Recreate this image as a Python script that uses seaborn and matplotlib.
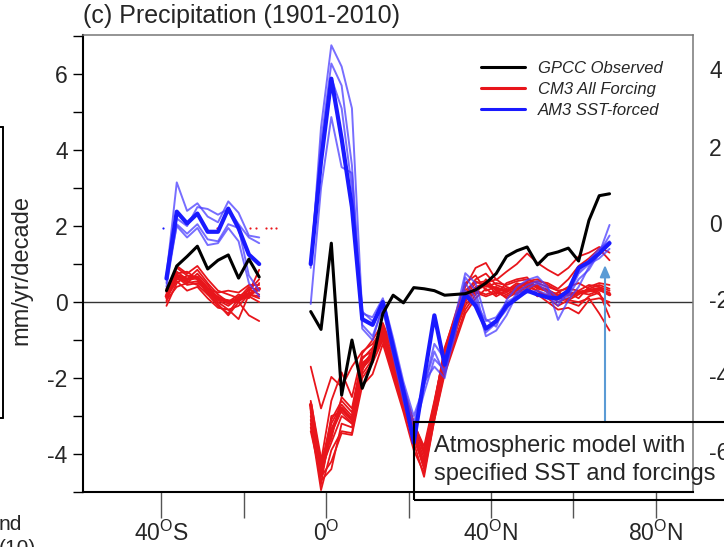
import numpy as np
import pandas as pd
import matplotlib
matplotlib.use("Agg")
import matplotlib.pyplot as plt
import seaborn as sns
from matplotlib.lines import Line2D
from matplotlib.patches import Rectangle
from matplotlib.ticker import MultipleLocator, FixedLocator

# ---------------- data ----------------
lat_sh = [-38.75, -36.25, -33.75, -31.25, -28.75, -26.25, -23.75, -21.25, -18.75, -16.25]
lat_nh = [-3.75, -1.25, 1.25, 3.75, 6.25, 8.75, 11.25, 13.75, 16.25, 18.75,
          21.25, 23.75, 26.25, 28.75, 31.25, 33.75, 36.25, 38.75, 41.25, 43.75,
          46.25, 48.75, 51.25, 53.75, 56.25, 58.75, 61.25, 63.75, 66.25, 68.75]

gpcc_sh = [0.3, 0.95, 1.2, 1.47, 0.87, 1.1, 1.24, 0.63, 1.13, 0.66]
gpcc_nh = [-0.25, -0.72, 1.55, -2.45, -1.0, -2.27, -1.55, -0.3, 0.18, -0.02,
           0.38, 0.35, 0.3, 0.18, 0.2, 0.22, 0.32, 0.5, 0.75, 1.2,
           1.35, 1.45, 0.98, 1.25, 1.32, 1.42, 1.08, 2.15, 2.8, 2.85]

am3_mean_sh = [0.62, 2.38, 2.07, 2.33, 1.85, 1.85, 2.46, 1.94, 1.25, 1.0]
am3_mean_nh = [1.0, 3.7, 5.88, 4.3, 2.5, -0.45, -0.6, 0.0, -1.2, -2.35,
               -3.7, -2.0, -0.35, -1.65, -0.6, 0.2, -0.1, -0.7, -0.5, -0.1,
               0.1, 0.3, 0.2, 0.12, 0.1, 0.3, 0.9, 1.05, 1.28, 1.55]
am3_members_sh = [
    [0.7, 3.15, 2.4, 2.6, 2.25, 2.1, 2.65, 2.35, 1.75, 1.7],
    [0.5, 2.2, 2.0, 2.5, 2.45, 2.3, 2.45, 2.05, 1.7, 1.55],
    [0.4, 2.05, 1.8, 2.05, 1.65, 1.6, 2.05, 1.95, 0.7, 0.3],
    [0.6, 2.0, 1.7, 1.95, 1.5, 1.55, 1.95, 1.6, 0.5, 0.15],
]
am3_members_nh = [
    [0.9, 4.6, 6.76, 6.2, 5.1, -0.3, -0.4, 0.1, -0.95, -2.1,
     -3.0, -2.2, -1.3, -1.9, -0.4, 0.76, 0.5, -0.45, -0.65, 0.05,
     0.4, 0.58, 0.67, 0.4, -0.47, 0.05, 0.4, 0.93, 1.28, 2.03],
    [1.05, 4.2, 6.28, 5.7, 3.6, -0.6, -0.9, -0.15, -1.3, -2.5,
     -3.4, -2.4, -1.5, -1.8, -0.9, 0.65, 0.3, -0.8, -0.55, -0.2,
     0.25, 0.45, 0.55, 0.35, 0.1, 0.2, 0.75, 1.0, 1.15, 1.4],
    [-0.05, 3.0, 4.87, 3.55, 3.4, -0.7, -1.0, -0.1, -1.05, -2.2,
     -3.2, -2.1, -1.7, -2.0, -0.7, 0.5, 0.1, -0.9, -0.75, -0.35,
     0.2, 0.35, 0.5, 0.25, 0.0, 0.15, 0.6, 0.85, 1.3, 1.75],
    [1.0, 3.9, 5.9, 5.1, 3.0, -0.25, -0.5, -0.2, -1.4, -2.6,
     -3.6, -2.2, -1.1, -1.5, -0.5, 0.3, 0.0, -0.5, -0.4, 0.0,
     0.15, 0.25, 0.3, 0.2, -0.1, 0.35, 0.8, 1.1, 1.4, 1.6],
]

cm3_mean_sh = [0.15, 0.7, 0.6, 0.65, 0.35, 0.1, 0.0, 0.05, 0.2, 0.35]
cm3_mean_nh = [-2.7, -4.5, -3.4, -2.8, -3.1, -1.7, -1.35, -0.8, -1.6, -2.6,
               -3.5, -4.3, -2.9, -1.5, -0.7, 0.1, 0.35, 0.45, 0.35, 0.3,
               0.4, 0.5, 0.4, 0.3, 0.15, 0.2, 0.25, 0.3, 0.35, 0.2]
cm3_members_sh = [
    [0.0, 0.95, 0.75, 0.95, 0.6, 0.3, 0.2, 0.1, 0.4, 0.3],
    [0.2, 0.8, 0.6, 0.85, 0.5, 0.2, 0.0, 0.2, 0.1, 0.5],
    [-0.1, 0.5, 0.7, 0.6, 0.3, 0.0, -0.2, -0.45, 0.2, 0.1],
    [0.1, 0.7, 0.5, 0.75, 0.45, 0.1, 0.05, 0.0, -0.35, -0.5],
    [0.2, 0.6, 0.55, 0.45, 0.2, -0.1, -0.3, 0.1, 0.25, 0.85],
    [0.3, 0.75, 0.8, 0.6, 0.2, 0.15, -0.05, 0.15, 0.3, 0.6],
    [0.05, 0.4, 0.5, 0.55, 0.25, -0.05, -0.35, 0.0, 0.35, 0.2],
    [0.35, 0.9, 0.7, 0.65, 0.35, 0.25, 0.3, 0.25, 0.45, 0.45],
    [0.1, 0.55, 0.3, 0.4, 0.1, -0.15, -0.2, -0.1, 0.2, 0.15],
    [0.25, 0.65, 0.45, 0.5, 0.3, 0.05, -0.1, 0.1, 0.15, 0.0],
]
cm3_members_nh = [
    [-1.7, -2.8, -1.97, -2.23, -1.7, -1.3, -1.1, -0.7, -1.3, -2.3,
     -3.2, -3.8, -2.6, -1.3, -0.5, 0.4, 0.9, 1.03, 0.58, 0.8,
     1.0, 1.28, 1.03, 0.85, 0.7, 0.9, 1.2, 1.3, 1.45, 1.3],
    [-3.2, -4.95, -3.9, -3.4, -3.45, -2.0, -1.6, -1.0, -1.9, -2.8,
     -3.7, -4.6, -3.1, -1.8, -1.0, -0.2, 0.2, 0.6, 0.3, 0.2,
     0.35, 0.4, 0.3, 0.1, -0.1, 0.05, 0.0, 0.1, -0.3, -0.75],
    [-2.65, -4.3, -3.1, -2.6, -2.9, -1.5, -1.2, -0.6, -1.4, -2.4,
     -3.3, -4.0, -2.7, -1.2, -0.4, 0.3, 0.55, 0.4, 0.5, 0.45,
     0.55, 0.6, 0.5, 0.4, 0.3, 0.35, 0.3, 0.45, 0.4, 0.3],
    [-3.0, -4.7, -4.4, -3.2, -3.3, -1.9, -1.5, -0.9, -1.7, -2.7,
     -3.4, -4.4, -3.0, -1.6, -0.8, -0.1, 0.3, 0.2, 0.3, 0.1,
     0.25, 0.3, 0.2, 0.0, -0.2, -0.15, -0.3, 0.05, 0.1, 0.0],
    [-2.8, -4.2, -2.6, -1.85, -2.5, -1.35, -1.0, -0.55, -1.25, -2.25,
     -3.15, -3.9, -2.65, -1.25, -0.35, 0.5, 0.7, 0.3, 0.4, 0.25,
     0.45, 0.5, 0.55, 0.5, 0.35, 0.6, 0.95, 1.15, 1.4, 1.1],
    [-3.3, -4.6, -4.2, -3.45, -3.5, -2.2, -1.9, -1.1, -2.0, -2.9,
     -3.9, -4.5, -3.1, -1.9, -1.1, -0.3, 0.1, 0.35, 0.15, 0.3,
     0.5, 0.4, 0.15, 0.2, 0.0, 0.1, 0.25, 0.2, 0.3, 0.25],
    [-2.9, -4.4, -3.7, -3.0, -3.2, -1.6, -1.4, -0.75, -1.5, -2.5,
     -3.6, -4.2, -2.8, -1.4, -0.6, 0.0, 0.4, 0.5, 0.6, 0.4,
     0.3, 0.35, 0.45, 0.25, 0.1, 0.05, 0.2, 0.35, 0.45, 0.35],
    [-3.1, -4.8, -3.2, -2.7, -3.0, -1.8, -1.25, -0.65, -1.8, -2.6,
     -3.4, -4.1, -2.75, -1.65, -0.9, 0.2, 0.6, 0.75, 0.45, 0.35,
     0.2, 0.45, 0.3, 0.15, 0.25, 0.4, 0.5, 0.35, 0.2, -0.1],
    [-2.6, -4.1, -3.6, -2.5, -2.8, -1.45, -1.3, -0.85, -1.55, -2.35,
     -3.3, -3.95, -2.85, -1.35, -0.55, 0.15, 0.5, 0.55, 0.2, 0.5,
     0.6, 0.65, 0.35, 0.3, 0.2, 0.25, 0.1, 0.4, 0.5, 0.45],
    [-3.4, -4.6, -3.0, -2.9, -3.2, -1.75, -1.45, -0.95, -1.85, -2.75,
     -3.5, -4.35, -2.95, -1.55, -0.75, 0.05, 0.25, 0.15, 0.25, 0.15,
     0.3, 0.55, 0.6, 0.45, 0.3, 0.0, -0.1, 0.15, 0.25, -0.4],
]

# stray dotted marks near y=2 in the SH
stray_red_lat = [-26.5, -18.4, -17.0, -14.6, -13.4, -12.1]
stray_red_val = [1.96, 1.96, 1.96, 1.96, 1.96, 1.96]
stray_blue_lat = [-39.7]
stray_blue_val = [1.96]

legend_labels = ["GPCC Observed", "CM3 All Forcing", "AM3 SST-forced"]
xtick_vals = [-40, 0, 40, 80]
xtick_labels = [r"40$^{\mathrm{O}}$S", r"0$^{\mathrm{O}}$", r"40$^{\mathrm{O}}$N", r"80$^{\mathrm{O}}$N"]
ytick_vals = [-4, -2, 0, 2, 4, 6]
right_panel_labels = ["4", "2", "0", "-2", "-4", "-6"]

# ---------------- long-form table ----------------
rows = []
def add(group, kind, unit, lats, vals):
    for la, v in zip(lats, vals):
        rows.append(dict(lat=la, val=v, group=group, kind=kind, unit=unit))

add("GPCC", "mean", "gpcc_sh", lat_sh, gpcc_sh)
add("GPCC", "mean", "gpcc_nh", lat_nh, gpcc_nh)
add("AM3", "mean", "am3_sh", lat_sh, am3_mean_sh)
add("AM3", "mean", "am3_nh", lat_nh, am3_mean_nh)
add("CM3", "mean", "cm3_sh", lat_sh, cm3_mean_sh)
add("CM3", "mean", "cm3_nh", lat_nh, cm3_mean_nh)
for i, (s, n) in enumerate(zip(am3_members_sh, am3_members_nh)):
    add("AM3", "member", f"am3_{i}_sh", lat_sh, s)
    add("AM3", "member", f"am3_{i}_nh", lat_nh, n)
for i, (s, n) in enumerate(zip(cm3_members_sh, cm3_members_nh)):
    add("CM3", "member", f"cm3_{i}_sh", lat_sh, s)
    add("CM3", "member", f"cm3_{i}_nh", lat_nh, n)
df = pd.DataFrame(rows)

# ---------------- style ----------------
sns.set_style("white")
plt.rcParams["font.family"] = ["Liberation Sans", "DejaVu Sans"]
plt.rcParams["mathtext.fontset"] = "custom"
plt.rcParams["mathtext.rm"] = "Liberation Sans"
plt.rcParams["mathtext.it"] = "Liberation Sans:italic"

W, H = 724, 547
fig = plt.figure(figsize=(W / 100, H / 100), dpi=100)
ax = fig.add_axes([83 / W, 1 - 492 / H, (693 - 83) / W, (492 - 35) / H])

RED = "#e8151b"
BLUE_THIN = "#4a3dff"
BLUE = "#1a1aff"

def sel(g, k):
    return df[(df.group == g) & (df.kind == k)]

sns.lineplot(data=sel("CM3", "member"), x="lat", y="val", units="unit", estimator=None,
             sort=False, color=RED, lw=1.3, ax=ax, legend=False, zorder=2)
sns.lineplot(data=sel("CM3", "mean"), x="lat", y="val", units="unit", estimator=None,
             sort=False, color=RED, lw=2.6, ax=ax, legend=False, zorder=2.1)
sns.lineplot(data=sel("AM3", "member"), x="lat", y="val", units="unit", estimator=None,
             sort=False, color=BLUE_THIN, alpha=0.75, lw=1.4, ax=ax, legend=False, zorder=3)
sns.lineplot(data=sel("AM3", "mean"), x="lat", y="val", units="unit", estimator=None,
             sort=False, color=BLUE, lw=3.0, ax=ax, legend=False, zorder=3.1)
sns.lineplot(data=sel("GPCC", "mean"), x="lat", y="val", units="unit", estimator=None,
             sort=False, color="black", lw=2.2, ax=ax, legend=False, zorder=4)

ax.scatter(stray_red_lat, stray_red_val, s=2.5, color=RED, zorder=2, linewidths=0)
ax.scatter(stray_blue_lat, stray_blue_val, s=2.5, color=BLUE, zorder=2, linewidths=0)

ax.axhline(0, color="#333333", lw=1.0, zorder=1)

ax.set_xlim(-59, 89)
ax.set_ylim(-5, 7.03)
ax.set_xlabel("")
ax.set_ylabel("")

# spines
for s in ["left", "bottom"]:
    ax.spines[s].set_color("black")
    ax.spines[s].set_linewidth(1.5)
for s in ["top", "right"]:
    ax.spines[s].set_color("#777777")
    ax.spines[s].set_linewidth(1.1)

# y ticks
ax.yaxis.set_major_locator(FixedLocator(ytick_vals))
ax.yaxis.set_minor_locator(MultipleLocator(1))
ax.set_yticklabels([str(v) for v in ytick_vals])
ax.tick_params(axis="y", which="both", direction="out", length=7, width=1.0,
               color="black", labelsize=16.5, pad=4, left=True)
# x ticks
ax.xaxis.set_major_locator(FixedLocator(xtick_vals))
ax.xaxis.set_minor_locator(FixedLocator([-20, 20, 60]))
ax.set_xticklabels(xtick_labels)
ax.tick_params(axis="x", which="both", direction="out", length=19, width=1.0,
               color="#555555", labelsize=16.5, pad=2, bottom=True)

# legend
handles = [Line2D([], [], color="black", lw=2.2),
           Line2D([], [], color=RED, lw=2.2),
           Line2D([], [], color=BLUE, lw=2.2)]
leg = ax.legend(handles, legend_labels, loc="upper left",
                bbox_to_anchor=(481 / W, 1 - 61 / H), bbox_transform=fig.transFigure,
                frameon=False, handlelength=2.64, handletextpad=0.75,
                labelspacing=0.36, borderpad=0, borderaxespad=0,
                prop=dict(style="italic", size=12))

# title and axis label
fig.text(83 / W, 1 - 16 / H, "(c) Precipitation (1901-2010)", fontsize=18,
         ha="left", va="center")
fig.text(21 / W, 1 - 270 / H, "mm/yr/decade", fontsize=17, rotation=90,
         ha="center", va="center")

# fragments of neighbouring panels
fig.add_artist(Line2D([3 / W, 3 / W], [1 - 127 / H, 1 - 418 / H], color="black", lw=1.4,
                      transform=fig.transFigure))
fig.add_artist(Line2D([0, 3 / W], [1 - 127 / H, 1 - 127 / H], color="black", lw=1.4,
                      transform=fig.transFigure))
fig.add_artist(Line2D([0, 3 / W], [1 - 418 / H, 1 - 418 / H], color="black", lw=1.4,
                      transform=fig.transFigure))
fig.text(-1 / W, 1 - 525 / H, "nd", fontsize=15, ha="left", va="center")
fig.text(-1 / W, 1 - 539 / H, "(10)", fontsize=15, ha="left", va="top")
right_y = [72, 150, 226, 302, 378, 454]
for lab, py in zip(right_panel_labels, right_y):
    fig.text(709 / W, 1 - py / H, lab, fontsize=16.5, ha="left", va="center")

# annotation box with arrow
fig.add_artist(Rectangle((414 / W, 1 - 500 / H), 0.6, 78 / H, fill=False,
                         edgecolor="black", lw=1.5, transform=fig.transFigure))
fig.text(434 / W, 1 - 446 / H, "Atmospheric model with", fontsize=17,
         ha="left", va="center")
fig.text(434 / W, 1 - 474 / H, "specified SST and forcings", fontsize=17,
         ha="left", va="center")
ax.annotate("", xy=(605 / W, 1 - 265 / H), xytext=(605 / W, 1 - 422 / H),
            xycoords="figure fraction", textcoords="figure fraction",
            arrowprops=dict(arrowstyle="-|>,head_length=0.7,head_width=0.3",
                            color="#5b9bd5", lw=1.5, shrinkA=0, shrinkB=0))

fig.savefig("out.png", dpi=100)
